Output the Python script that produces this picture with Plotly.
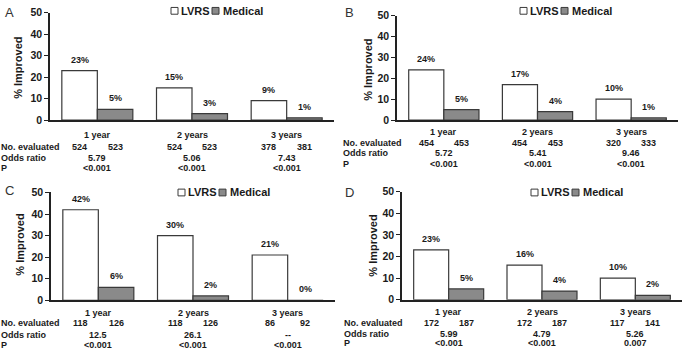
import plotly.graph_objects as go

# ---------------- data ----------------
periods = ["1 year", "2 years", "3 years"]
panel_names = ["A", "B", "C", "D"]

lvrs_A = [23, 15, 9]
medical_A = [5, 3, 1]
n_lvrs_A = [524, 524, 378]
n_med_A = [523, 523, 381]
odds_A = ["5.79", "5.06", "7.43"]
p_A = ["<0.001", "<0.001", "<0.001"]

lvrs_B = [24, 17, 10]
medical_B = [5, 4, 1]
n_lvrs_B = [454, 454, 320]
n_med_B = [453, 453, 333]
odds_B = ["5.72", "5.41", "9.46"]
p_B = ["<0.001", "<0.001", "<0.001"]

lvrs_C = [42, 30, 21]
medical_C = [6, 2, 0]
n_lvrs_C = [118, 118, 86]
n_med_C = [126, 126, 92]
odds_C = ["12.5", "26.1", "--"]
p_C = ["<0.001", "<0.001", "<0.001"]

lvrs_D = [23, 16, 10]
medical_D = [5, 4, 2]
n_lvrs_D = [172, 172, 117]
n_med_D = [187, 187, 141]
odds_D = ["5.99", "4.79", "5.26"]
p_D = ["<0.001", "<0.001", "0.007"]

y_ticks = [0, 10, 20, 30, 40, 50]
row_labels = ["No. evaluated", "Odds ratio", "P"]

panel_data = [
    (lvrs_A, medical_A, n_lvrs_A, n_med_A, odds_A, p_A),
    (lvrs_B, medical_B, n_lvrs_B, n_med_B, odds_B, p_B),
    (lvrs_C, medical_C, n_lvrs_C, n_med_C, odds_C, p_C),
    (lvrs_D, medical_D, n_lvrs_D, n_med_D, odds_D, p_D),
]

# ---------------- layout geometry (pixels) ----------------
W, H = 685, 356
geom = [
    dict(x=(50, 334), y=(7, 118), rows=[134, 146, 157, 168], lab_x=0, leg=(171, 5), letter=(3, 7), yt=(18, 64)),
    dict(x=(397, 678), y=(10, 118), rows=[130, 142, 152, 164], lab_x=342, leg=(520, 5), letter=(343, 7), yt=(368, 66)),
    dict(x=(51, 335), y=(193, 304.5), rows=[318, 328, 340, 351], lab_x=0, leg=(178, 193), letter=(3, 191), yt=(20, 247)),
    dict(x=(402, 682), y=(192, 304), rows=[317, 328, 339, 349], lab_x=343, leg=(531, 193), letter=(343, 193), yt=(373, 248)),
]

FONT = "Liberation Sans, Arial, sans-serif"
TXT = "#1a1a1a"
EDGE = "#3a3a3a"
GREY = "#8a8a8a"
BARGAP = 0.25
OFF = (1 - BARGAP) / 4

def px(x):
    return x / W

def py(y):
    return 1 - y / H

fig = go.Figure()
annotations = []
shapes = []

for k, (name, data, g) in enumerate(zip(panel_names, panel_data, geom)):
    lv, md, nl, nm, od, pv = data
    sfx = "" if k == 0 else str(k + 1)
    xa, ya = "x" + sfx, "y" + sfx
    fig.add_trace(go.Bar(x=[0, 1, 2], y=lv, name="LVRS", xaxis=xa, yaxis=ya,
                         marker=dict(color="white", line=dict(color=EDGE, width=1.2)),
                         showlegend=False, hoverinfo="skip"))
    fig.add_trace(go.Bar(x=[0, 1, 2], y=md, name="Medical", xaxis=xa, yaxis=ya,
                         marker=dict(color=GREY, line=dict(color=EDGE, width=1.2)),
                         showlegend=False, hoverinfo="skip"))

    axis_common = dict(showgrid=False, zeroline=False, showline=True, linecolor="#222", linewidth=1.5)
    fig.update_layout(**{
        ("xaxis" + sfx): dict(domain=[px(g["x"][0]), px(g["x"][1])], range=[-0.5, 2.5],
                               showticklabels=False, ticks="", anchor=ya, **axis_common),
        ("yaxis" + sfx): dict(domain=[py(g["y"][1]), py(g["y"][0])], range=[0, 50],
                               tickvals=y_ticks, ticks="outside", ticklen=4, tickcolor="#222",
                               tickfont=dict(family=FONT, size=10.5, color=TXT, weight="bold"),
                               anchor=xa, **axis_common),
    })

    small = dict(family=FONT, size=9, color=TXT, weight="bold")
    vfont = dict(family=FONT, size=9, color=TXT, weight="bold")
    for i in range(3):
        annotations.append(dict(x=i - OFF, y=lv[i], xref=xa, yref=ya, text=f"{lv[i]}%", showarrow=False,
                                yshift=11, font=vfont, borderpad=0))
        annotations.append(dict(x=i + OFF, y=md[i], xref=xa, yref=ya, text=f"{md[i]}%", showarrow=False,
                                yshift=11, font=vfont, borderpad=0))
        annotations.append(dict(x=i, y=py(g["rows"][0]), xref=xa, yref="paper", text=periods[i],
                                showarrow=False, font=small, yanchor="middle", borderpad=0))
        annotations.append(dict(x=i - OFF, y=py(g["rows"][1]), xref=xa, yref="paper", text=str(nl[i]),
                                showarrow=False, font=small, yanchor="middle", borderpad=0))
        annotations.append(dict(x=i + OFF, y=py(g["rows"][1]), xref=xa, yref="paper", text=str(nm[i]),
                                showarrow=False, font=small, yanchor="middle", borderpad=0))
        annotations.append(dict(x=i, y=py(g["rows"][2]), xref=xa, yref="paper", text=od[i],
                                showarrow=False, font=small, yanchor="middle", borderpad=0))
        annotations.append(dict(x=i, y=py(g["rows"][3]), xref=xa, yref="paper", text=pv[i],
                                showarrow=False, font=small, yanchor="middle", borderpad=0))
    for j, lab in enumerate(row_labels):
        annotations.append(dict(x=px(g["lab_x"]), y=py(g["rows"][j + 1]), xref="paper", yref="paper",
                                text=lab, showarrow=False, font=small, xanchor="left", yanchor="middle",
                                borderpad=0))

    annotations.append(dict(x=px(g["letter"][0]), y=py(g["letter"][1]), xref="paper", yref="paper",
                            text=name, showarrow=False, xanchor="left", yanchor="middle",
                            font=dict(family=FONT, size=13, color="#333")))
    annotations.append(dict(x=px(g["yt"][0]), y=py(g["yt"][1]), xref="paper", yref="paper",
                            text="% Improved", showarrow=False, textangle=-90,
                            xanchor="center", yanchor="middle",
                            font=dict(family=FONT, size=11, color=TXT, weight="bold")))
    bx, by = g["leg"]
    for dx, col, lab, tx in [(0, "white", "LVRS", 8), (41, GREY, "Medical", 50)]:
        shapes.append(dict(type="rect", xref="paper", yref="paper",
                           x0=px(bx + dx), x1=px(bx + dx + 7), y0=py(by + 3.5), y1=py(by - 3.5),
                           fillcolor=col, line=dict(color=EDGE, width=1)))
        annotations.append(dict(x=px(bx + tx), y=py(by), xref="paper", yref="paper", text=lab,
                                showarrow=False, xanchor="left", yanchor="middle",
                                font=dict(family=FONT, size=11, color=TXT, weight="bold")))

fig.update_layout(width=W, height=H, margin=dict(l=0, r=0, t=0, b=0),
                  paper_bgcolor="white", plot_bgcolor="white",
                  barmode="group", bargap=BARGAP, bargroupgap=0,
                  annotations=annotations, shapes=shapes, showlegend=False)

fig.write_html("out.html", config={"displayModeBar": False},
               post_script="document.body.style.margin='0';document.body.style.overflow='hidden';")
